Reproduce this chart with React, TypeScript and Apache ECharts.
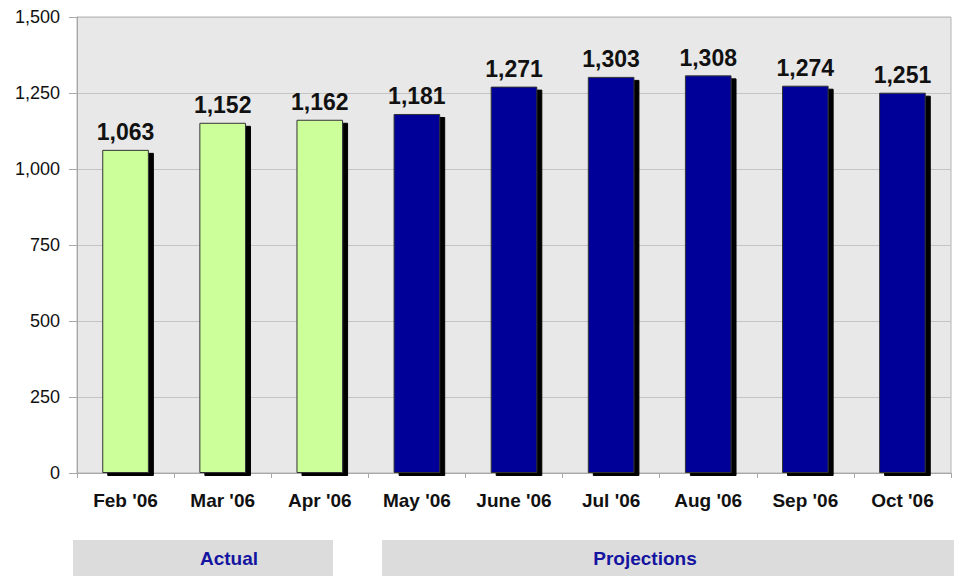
import React, { useEffect, useRef } from "react";
import * as echarts from "echarts";

const categories = ["Feb '06", "Mar '06", "Apr '06", "May '06", "June '06", "Jul '06", "Aug '06", "Sep '06", "Oct '06"];
const values = [1063, 1152, 1162, 1181, 1271, 1303, 1308, 1274, 1251];
const isActual = [true, true, true, false, false, false, false, false, false];
const yTicks = [0, 250, 500, 750, 1000, 1250, 1500];
const groupLabels = ["Actual", "Projections"];

const fmt = (v: number) => v.toLocaleString("en-US");

export default function App() {
  const ref = useRef<HTMLDivElement>(null);
  useEffect(() => {
    document.body.style.margin = "0";
    const chart = echarts.init(ref.current!, null, { renderer: "svg" });
    chart.setOption({
      animation: false,
      textStyle: { fontFamily: "Liberation Sans, Arial, sans-serif" },
      grid: {
        left: 77,
        right: 3,
        top: 17,
        bottom: 103,
        show: true,
        backgroundColor: "#e8e8e8",
        borderColor: "#b4b4b4",
        borderWidth: 1,
      },
      xAxis: {
        type: "category",
        data: categories,
        axisLine: { lineStyle: { color: "#a8a8a8", width: 1 } },
        axisTick: { show: true, length: 5, lineStyle: { color: "#a8a8a8" } },
        axisLabel: {
          color: "#111",
          fontWeight: "bold",
          fontSize: 19,
          margin: 18,
          interval: 0,
        },
      },
      yAxis: {
        type: "value",
        min: yTicks[0],
        max: yTicks[yTicks.length - 1],
        interval: 250,
        axisLine: { show: true, lineStyle: { color: "#a8a8a8" } },
        axisTick: { show: true, length: 8, lineStyle: { color: "#a8a8a8" } },
        axisLabel: { color: "#111", fontSize: 18, margin: 17, formatter: (v: number) => fmt(v) },
        splitLine: { lineStyle: { color: "#c4c4c4", width: 1 } },
      },
      series: [
        {
          type: "bar",
          barWidth: "48%",
          data: values.map((v, i) => ({
            value: v,
            itemStyle: { color: isActual[i] ? "#ccff99" : "#000099" },
          })),
          itemStyle: {
            borderColor: "#333333",
            borderWidth: 1,
            shadowColor: "#000000",
            shadowBlur: 0,
            shadowOffsetX: 5,
            shadowOffsetY: 3,
          },
          label: {
            show: true,
            position: "top",
            distance: 6,
            color: "#111",
            fontWeight: "bold",
            fontSize: 23,
            formatter: (p: any) => fmt(p.value),
          },
        },
      ],
      graphic: [
        {
          type: "group",
          children: [
            { type: "rect", shape: { x: 73, y: 540, width: 260, height: 36 }, style: { fill: "#dcdcdc" } },
            {
              type: "text",
              x: 229,
              y: 558,
              style: {
                text: groupLabels[0],
                fill: "#1414a0",
                font: "bold 19px 'Liberation Sans', Arial, sans-serif",
                align: "center",
                verticalAlign: "middle",
              },
            },
            { type: "rect", shape: { x: 382, y: 540, width: 572, height: 36 }, style: { fill: "#dcdcdc" } },
            {
              type: "text",
              x: 645,
              y: 558,
              style: {
                text: groupLabels[1],
                fill: "#1414a0",
                font: "bold 19px 'Liberation Sans', Arial, sans-serif",
                align: "center",
                verticalAlign: "middle",
              },
            },
          ],
        },
      ],
    });
    return () => chart.dispose();
  }, []);
  return <div ref={ref} style={{ width: 954, height: 576 }} />;
}
